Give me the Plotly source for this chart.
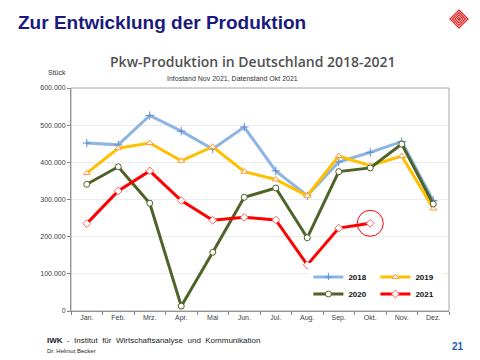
import plotly.graph_objects as go

months = ["Jan.", "Feb.", "Mrz.", "Apr.", "Mai", "Jun.", "Jul.", "Aug.", "Sep.", "Okt.", "Nov.", "Dez."]
prod_2018 = [452000, 447000, 526000, 484000, 436000, 495000, 377000, 310000, 401000, 427000, 456000, 297000]
prod_2019 = [371000, 438000, 452000, 404000, 442000, 375000, 354000, 310000, 417000, 391000, 417000, 276000]
prod_2020 = [341000, 388000, 290000, 13000, 158000, 306000, 331000, 197000, 375000, 385000, 449000, 288000]
prod_2021 = [235000, 323000, 377000, 297000, 244000, 252000, 245000, 124000, 223000, 236000]
y_ticks = [0, 100000, 200000, 300000, 400000, 500000, 600000]

fig = go.Figure()

def add(name, vals, color, symbol, legend, mcolor, fill="white"):
    fig.add_trace(go.Scatter(
        x=months[:len(vals)], y=vals, name=name, mode="lines+markers",
        line=dict(color=color, width=3),
        marker=dict(symbol=symbol, size=6, color=fill, line=dict(color=mcolor, width=1)),
        legend=legend,
    ))

add("2018", prod_2018, "#8db4e2", "cross-thin", "legend", "#5b8fd0", fill="#8db4e2")
add("2019", prod_2019, "#ffc000", "triangle-up", "legend", "#ff9a40")
add("2020", prod_2020, "#4f6228", "circle", "legend2", "#4f6228")
add("2021", prod_2021, "#ff0000", "diamond", "legend2", "#ff6060")

# highlight circle around last 2021 value
fig.add_shape(type="circle", xref="x", yref="y", xsizemode="pixel", ysizemode="pixel",
              xanchor=months[len(prod_2021) - 1], yanchor=prod_2021[-1],
              x0=-13, x1=13, y0=-13, y1=13, line=dict(color="#ff0000", width=1))

# plot frame
fig.add_shape(type="rect", xref="paper", yref="paper", x0=0, x1=1, y0=0, y1=1,
              line=dict(color="#a6a6a6", width=1), layer="above")

legend_style = dict(orientation="h", bgcolor="white",
                    font=dict(family="Liberation Sans", size=8, color="#111111", weight="bold"),
                    entrywidth=22, entrywidthmode="pixels", itemwidth=30,
                    xanchor="left", yanchor="middle")

fig.update_layout(
    width=480, height=360,
    margin=dict(l=71, r=31, t=88, b=49),
    paper_bgcolor="white", plot_bgcolor="white",
    separators=",.",
    showlegend=True,
    legend=dict(x=0.628, y=(311 - 277) / 223, **legend_style),
    legend2=dict(x=0.628, y=(311 - 294) / 223, **legend_style),
    xaxis=dict(type="category", categoryorder="array", categoryarray=months,
               tickson="boundaries", ticks="outside", ticklen=3, tickcolor="#808080",
               showline=True, linecolor="#808080", showgrid=False,
               tickfont=dict(family="Liberation Sans", size=7, color="#404040"),
               range=[-0.5, 11.5]),
    yaxis=dict(range=[0, 600000], tickvals=y_ticks, tickformat=",d",
               ticks="outside", ticklen=3, tickcolor="#808080",
               showline=True, linecolor="#808080",
               gridcolor="#ececec", gridwidth=1, zeroline=False,
               tickfont=dict(family="Liberation Sans", size=7, color="#404040")),
    font=dict(family="Liberation Sans"),
)

ann = [
    dict(text="Zur Entwicklung der Produktion", x=16, y=22, font=dict(family="Liberation Sans", size=19, color="#1a1a7e", weight="bold"), xanchor="left"),
    dict(text="Pkw-Produktion in Deutschland 2018-2021", x=253, y=61, font=dict(family="Open Sans", size=14, color="#505050", weight=600), xanchor="center"),
    dict(text="Infostand Nov 2021, Datenstand Okt 2021", x=232, y=78, font=dict(family="Liberation Sans", size=7, color="#333333"), xanchor="center"),
    dict(text="Stück", x=57, y=72, font=dict(family="Liberation Sans", size=7, color="#333333"), xanchor="center"),
    dict(text="<b>IWK</b>  -  Institut  für  Wirtschaftsanalyse  und  Kommunikation", x=45, y=340, font=dict(family="Liberation Sans", size=8, color="#222222"), xanchor="left"),
    dict(text="Dr. Helmut Becker", x=45, y=351, font=dict(family="Liberation Sans", size=6, color="#222222"), xanchor="left"),
    dict(text="<b>21</b>", x=458, y=346, font=dict(family="Liberation Sans", size=10, color="#1f5fa8"), xanchor="center"),
]
for a in ann:
    fig.add_annotation(xref="paper", yref="paper", showarrow=False,
                       x=(a["x"] - 71) / 378, y=(311 - a["y"]) / 223,
                       text=a["text"], font=a["font"], xanchor=a["xanchor"], yanchor="middle")

# logo: small red rotated maze-like square
cx, cy = 459, 19
for r in [9, 6.5, 4, 1.5]:
    pts = [(cx, cy - r), (cx + r, cy), (cx, cy + r), (cx - r, cy)]
    path = "M " + " L ".join(f"{(px - 71) / 378:.5f},{(311 - py) / 223:.5f}" for px, py in pts) + " Z"
    fig.add_shape(type="path", xref="paper", yref="paper", path=path,
                  line=dict(color="#e02020", width=1.2), fillcolor="rgba(0,0,0,0)")

fig.write_html("out.html", config={"displayModeBar": False},
               post_script="document.body.style.margin='0';document.body.style.overflow='hidden';")
